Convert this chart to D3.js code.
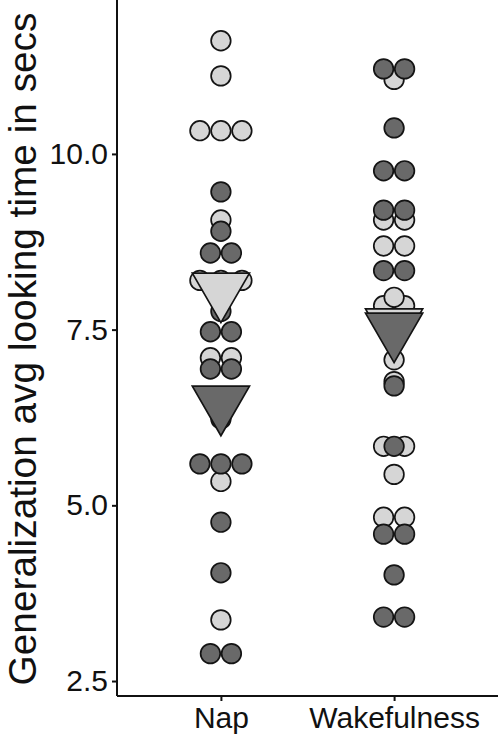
<!DOCTYPE html>
<html>
<head>
<meta charset="utf-8">
<script src="https://cdnjs.cloudflare.com/ajax/libs/d3/7.8.5/d3.min.js"></script>
<style>
  body { margin: 0; background: #fff; }
  text { font-family: "Liberation Sans", Arial, sans-serif; fill: #111; }
</style>
</head>
<body>
<script>
// groups along the x axis
var conditions = ['Nap', 'Wakefulness'];

// one value per dot, equal values stack side by side
var napLight = [11.61, 11.11, 10.33, 10.33, 10.33, 9.06, 8.2, 8.2, 8.2, 7.1, 7.1, 5.34, 3.37];
var napDark = [9.46, 8.9, 8.59, 8.59, 7.76, 7.47, 7.47, 6.94, 6.94, 6.23, 5.59, 5.59, 5.59, 4.76, 4.04, 2.89, 2.89];
var wakeLight = [11.06, 9.06, 9.06, 8.69, 8.69, 7.96, 7.84, 7.84, 7.07, 6.76, 5.84, 5.84, 5.44, 4.83, 4.83];
var wakeDark = [11.21, 11.21, 10.37, 9.76, 9.76, 9.2, 9.2, 8.34, 8.34, 6.7, 5.84, 4.59, 4.59, 4.01, 3.41, 3.41];

// group means (triangles)
var lightMeans = [8.07, 7.56];
var darkMeans = [6.46, 7.5];

var yTicks = [2.5, 5.0, 7.5, 10.0];

var options = {
  width: 500,
  height: 738,
  left: 117,
  right: 498,
  top: 0,
  bottom: 696,
  light: '#d6d6d6',
  dark: '#696969',
  stroke: '#141414',
  r: 9.8,
  step: 21,
  tri: 33
};

var svg = d3.select('body')
            .append('svg')
            .attr('width', options.width)
            .attr('height', options.height);

var x = d3.scalePoint()
          .domain(conditions)
          .range([options.left, options.right])
          .padding(0.6);

var y = d3.scaleLinear()
          .domain([2.287, 12.19])
          .range([options.bottom, options.top]);

// centred stacks like geom_dotplot(stackdir = 'center')
var stackDots = function(values, cond) {
  var out = [];
  var groups = d3.groups(values, function(v) { return v; })
                 .sort(function(a, b) { return a[0] - b[0]; });
  groups.forEach(function(g) {
    var n = g[1].length;
    g[1].forEach(function(v, i) {
      out.push({cond: cond, value: v, off: (i - (n - 1) / 2) * options.step});
    });
  });
  return out;
};

var lightDots = stackDots(napLight, 'Nap').concat(stackDots(wakeLight, 'Wakefulness'));
var darkDots = stackDots(napDark, 'Nap').concat(stackDots(wakeDark, 'Wakefulness'));

var drawDots = function(data, fill) {
  svg.append('g')
     .selectAll('circle')
     .data(data)
     .enter()
       .append('circle')
       .attr('cx', function(d) { return x(d.cond) + d.off; })
       .attr('cy', function(d) { return y(d.value); })
       .attr('r', options.r)
       .attr('fill', fill)
       .attr('stroke', options.stroke)
       .attr('stroke-width', 1.7);
};

drawDots(lightDots, options.light);
drawDots(darkDots, options.dark);

// downward triangle, R pch 25 geometry
var triPath = function(cx, cy) {
  var r = options.tri;
  var xc = r * Math.sqrt(3) / 2;
  return 'M' + (cx - xc) + ',' + (cy - r / 2) +
         'L' + (cx + xc) + ',' + (cy - r / 2) +
         'L' + cx + ',' + (cy + r) + 'Z';
};

var drawMeans = function(means, fill) {
  svg.append('g')
     .selectAll('path')
     .data(means)
     .enter()
       .append('path')
       .attr('d', function(d, i) { return triPath(x(conditions[i]), y(d)); })
       .attr('fill', fill)
       .attr('stroke', options.stroke)
       .attr('stroke-width', 1.7)
       .attr('stroke-linejoin', 'miter');
};

drawMeans(lightMeans, options.light);
drawMeans(darkMeans, options.dark);

// axes
var yAxis = svg.append('g')
               .attr('transform', 'translate(' + options.left + ',0)')
               .call(d3.axisLeft(y).tickValues(yTicks).tickFormat(d3.format('.1f')).tickSize(5).tickPadding(4));

var xAxis = svg.append('g')
               .attr('transform', 'translate(0,' + options.bottom + ')')
               .call(d3.axisBottom(x).tickSize(5).tickPadding(6));

[yAxis, xAxis].forEach(function(ax) {
  ax.select('.domain').attr('stroke', '#111').attr('stroke-width', 2);
  ax.selectAll('.tick line').attr('stroke', '#111').attr('stroke-width', 2);
  ax.selectAll('.tick text')
    .attr('fill', '#111')
    .style('font-size', '30px')
    .style('font-family', '"Liberation Sans", Arial, sans-serif');
});

// stretch the domain lines to the panel edges
yAxis.select('.domain').attr('d', 'M0,' + options.top + 'V' + options.bottom);
xAxis.select('.domain').attr('d', 'M' + options.left + ',0H' + options.right);

svg.append('text')
   .attr('transform', 'translate(36,' + ((options.top + options.bottom) / 2 + 1) + ') rotate(-90)')
   .attr('text-anchor', 'middle')
   .style('font-size', '38.8px')
   .text('Generalization avg looking time in secs');
</script>
</body>
</html>
